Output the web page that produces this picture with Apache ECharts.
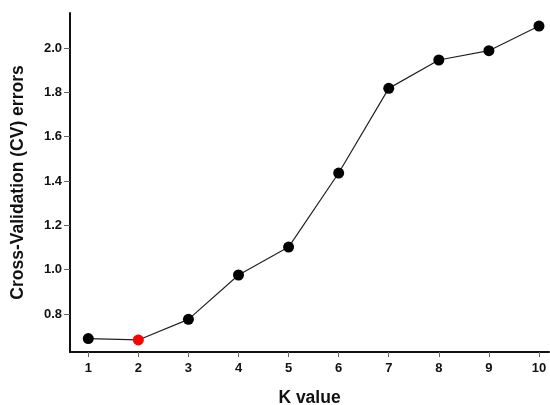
<!DOCTYPE html>
<html><head><meta charset="utf-8">
<script src="https://cdn.jsdelivr.net/npm/echarts@6/dist/echarts.min.js"></script>
<style>html,body{margin:0;padding:0;background:#fff}#c{width:550px;height:405px}</style>
</head><body><div id="c"></div>
<script>
const kValues = [1, 2, 3, 4, 5, 6, 7, 8, 9, 10];
const cvErrors = [0.689, 0.683, 0.776, 0.976, 1.102, 1.436, 1.818, 1.946, 1.988, 2.099];
const highlightK = 2;
const yTicks = [0.8, 1.0, 1.2, 1.4, 1.6, 1.8, 2.0];
const xTicks = kValues;

const font = 'Liberation Sans, Helvetica, Arial, sans-serif';
const chart = echarts.init(document.getElementById('c'), null, {renderer: 'canvas'});
chart.setOption({
  animation: false,
  grid: {left: 70, right: 1, top: 13, bottom: 53, containLabel: false, outerBoundsMode: 'none'},
  xAxis: {
    type: 'value', min: 0.635, max: 10.2,
    name: 'K value', nameLocation: 'middle', nameGap: 37,
    nameTextStyle: {fontFamily: font, fontWeight: 'bold', fontSize: 17.5, color: '#111'},
    axisLine: {show: true, onZero: false, lineStyle: {color: '#111', width: 2}},
    axisTick: {show: true, length: 5, customValues: xTicks, lineStyle: {color: '#666', width: 1}},
    axisLabel: {customValues: xTicks, fontFamily: font, fontWeight: 'bold', fontSize: 13, color: '#111', margin: 10,
      formatter: v => String(Math.round(v))},
    splitLine: {show: false}
  },
  yAxis: {
    type: 'value', min: 0.6286, max: 2.158,
    name: 'Cross-Validation (CV) errors', nameLocation: 'middle', nameGap: 43,
    nameTextStyle: {fontFamily: font, fontWeight: 'bold', fontSize: 17.5, color: '#111'},
    axisLine: {show: true, onZero: false, lineStyle: {color: '#111', width: 2}},
    axisTick: {show: true, length: 6, customValues: yTicks, lineStyle: {color: '#666', width: 1}},
    axisLabel: {customValues: yTicks, fontFamily: font, fontWeight: 'bold', fontSize: 13, color: '#111', margin: 8,
      formatter: v => v.toFixed(1)},
    splitLine: {show: false}
  },
  series: [{
    type: 'line',
    data: kValues.map((k, i) => ({
      value: [k, cvErrors[i]],
      itemStyle: {color: k === highlightK ? '#ff0000' : '#000'}
    })),
    symbol: 'circle', symbolSize: 11,
    lineStyle: {color: '#222', width: 1.2},
    itemStyle: {color: '#000'}
  }]
});
</script></body></html>
